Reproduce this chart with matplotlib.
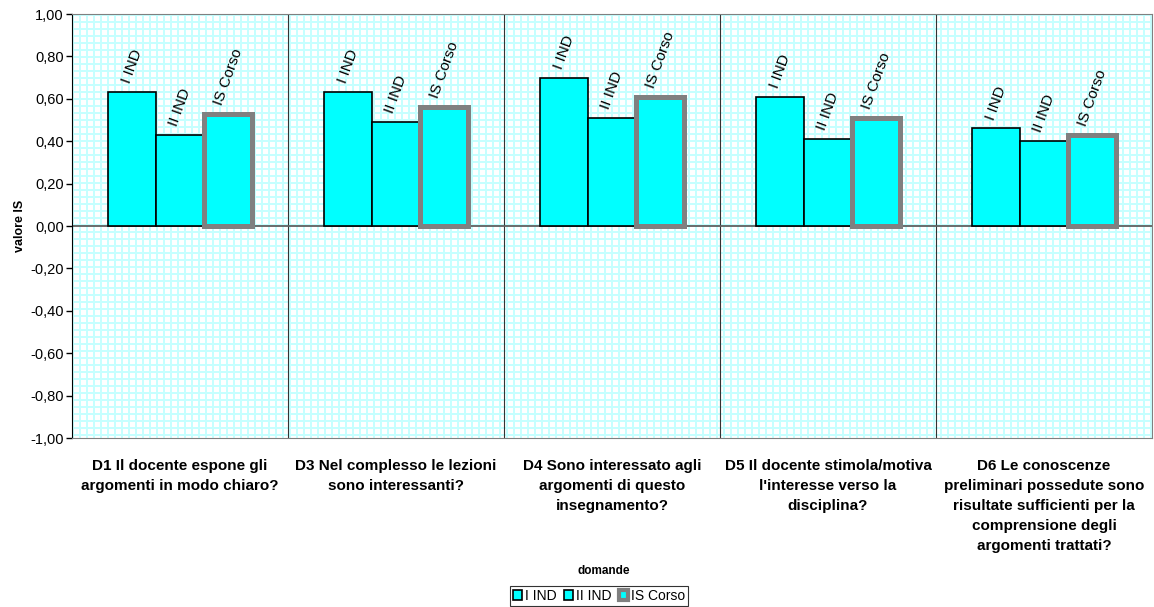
import numpy as np
import matplotlib.pyplot as plt
from matplotlib.patches import Patch

plt.rcParams['font.family'] = ['Liberation Sans', 'DejaVu Sans']

# data
categories = [
    "D1 Il docente espone gli\nargomenti in modo chiaro?",
    "D3 Nel complesso le lezioni\nsono interessanti?",
    "D4 Sono interessato agli\nargomenti di questo\ninsegnamento?",
    "D5 Il docente stimola/motiva\nl'interesse verso la\ndisciplina?",
    "D6 Le conoscenze\npreliminari possedute sono\nrisultate sufficienti per la\ncomprensione degli\nargomenti trattati?",
]
series_names = ["I IND", "II IND", "IS Corso"]
i_ind = [0.63, 0.63, 0.70, 0.61, 0.46]
ii_ind = [0.43, 0.49, 0.51, 0.41, 0.40]
is_corso = [0.53, 0.56, 0.61, 0.51, 0.43]
y_ticks = [-1.0, -0.8, -0.6, -0.4, -0.2, 0.0, 0.2, 0.4, 0.6, 0.8, 1.0]
y_tick_labels = ["-1,00", "-0,80", "-0,60", "-0,40", "-0,20", "0,00",
                 "0,20", "0,40", "0,60", "0,80", "1,00"]

CYAN = '#00ffff'
GREY = '#808080'

W, H = 1154, 607
fig = plt.figure(figsize=(W / 100, H / 100), dpi=100)
ax_l, ax_r, ax_t, ax_b = 72, 1152, 14, 438
ax = fig.add_axes([ax_l / W, (H - ax_b) / H, (ax_r - ax_l) / W, (ax_b - ax_t) / H])

# background grid pattern of the plot area (Excel style)
pw, ph = ax_r - ax_l, ax_b - ax_t
pat = np.ones((ph, pw, 3))
light = np.array([0.78, 1.0, 1.0])
rows = (np.arange(ph) % 7) < 2
cols = (np.arange(pw) % 7) < 2
pat[rows, :, :] = light
pat[:, cols, :] = light
ax.imshow(pat, extent=[0, 1, 0, 1], transform=ax.transAxes,
          aspect='auto', interpolation='nearest', zorder=0)

x = np.arange(len(categories))
w = 1 / 4.5

ax.bar(x - w, i_ind, w, color=CYAN, edgecolor='black', linewidth=1.2, zorder=3)
ax.bar(x, ii_ind, w, color=CYAN, edgecolor='black', linewidth=1.2, zorder=3)
ax.bar(x + w, is_corso, w, color=CYAN, edgecolor=GREY, linewidth=3.6, zorder=4)

# rotated series labels above bars
for offs, vals, name in zip([-w, 0, w], [i_ind, ii_ind, is_corso], series_names):
    for xi, v in zip(x, vals):
        ax.annotate(name, (xi + offs, v), xytext=(0, 5), textcoords='offset points',
                    rotation=70, ha='center', va='bottom', fontsize=11, zorder=5)

# category dividers and zero line
for b in np.arange(0.5, len(categories) - 0.5, 1):
    ax.axvline(b, color='#333333', linewidth=0.8, zorder=2)
ax.axhline(0, color='#606060', linewidth=1.3, zorder=2)

ax.set_xlim(-0.5, len(categories) - 0.5)
ax.set_ylim(-1, 1)
ax.set_yticks(y_ticks)
ax.set_yticklabels(y_tick_labels, fontsize=10.5)
ax.tick_params(axis='y', direction='out', length=4, width=1, pad=2)
ax.set_xticks(x)
ax.set_xticklabels(categories, fontsize=11, fontweight='bold', linespacing=1.55)
ax.tick_params(axis='x', length=0, pad=15)
ax.set_ylabel('valore IS', fontsize=9, fontweight='bold', labelpad=3)

for s in ['top', 'right', 'bottom']:
    ax.spines[s].set_color(GREY)
ax.spines['left'].set_color('black')

fig.text(604 / W, 1 - 571 / H, 'domande', ha='center', va='center',
         fontsize=8.5, fontweight='bold')

handles = [Patch(facecolor=CYAN, edgecolor='black', linewidth=1.2),
           Patch(facecolor=CYAN, edgecolor='black', linewidth=1.2),
           Patch(facecolor=CYAN, edgecolor=GREY, linewidth=3)]
leg = fig.legend(handles, series_names, loc='center', bbox_to_anchor=(599 / W, 1 - 596 / H),
                 ncol=3, fontsize=10, frameon=True, fancybox=False, handlelength=0.7,
                 handleheight=0.7, handletextpad=0.2, columnspacing=0.5,
                 borderpad=0.2, borderaxespad=0)
leg.get_frame().set_edgecolor('black')
leg.get_frame().set_linewidth(0.8)

fig.savefig('out.png', dpi=100)
